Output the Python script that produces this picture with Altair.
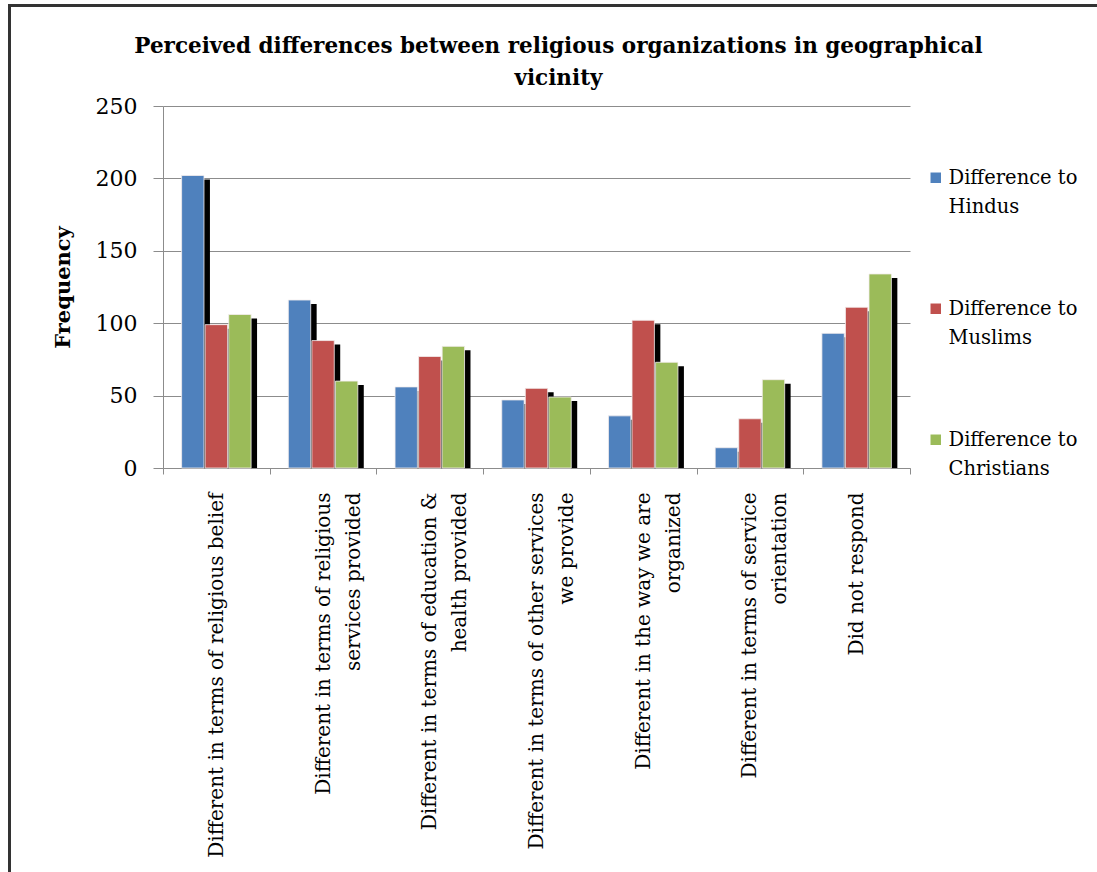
import altair as alt
import pandas as pd

categories = [
    "Different in terms of religious belief",
    "Different in terms of religious\nservices provided",
    "Different in terms of education &\nhealth provided",
    "Different in terms of other services\nwe provide",
    "Different in the way we are\norganized",
    "Different in terms of service\norientation",
    "Did not respond",
]
series = ["Difference to Hindus", "Difference to Muslims", "Difference to Christians"]
hindus = [202, 116, 56, 47, 36, 14, 93]
muslims = [99, 88, 77, 55, 102, 34, 111]
christians = [106, 60, 84, 49, 73, 61, 134]
colors = ["#4F81BD", "#C0504D", "#9BBB59"]
y_ticks = [0, 50, 100, 150, 200, 250]

rows = []
for i, c in enumerate(categories):
    for s, vals in zip(series, [hindus, muslims, christians]):
        rows.append({"category": c, "series": s, "value": vals[i]})
df = pd.DataFrame(rows)

serif = "DejaVu Serif"
gray = "#8c8c8c"

x_enc = alt.X(
    "category:N", sort=categories,
    scale=alt.Scale(paddingInner=0, paddingOuter=0),
    axis=alt.Axis(
        title=None, labelAngle=-90, labelAlign="right", labelBaseline="middle",
        labelExpr="split(datum.label, '\\n')", labelLineHeight=30,
        labelFont=serif, labelFontSize=20, labelColor="black", labelLimit=600,
        tickBand="extent", tickSize=6, tickColor=gray, domainColor=gray,
        labelPadding=18, grid=False,
    ),
)
y_enc = alt.Y(
    "value:Q", scale=alt.Scale(domain=[0, 250]),
    axis=alt.Axis(
        values=y_ticks, title="Frequency", titleFont=serif, titleFontSize=21,
        titleFontWeight="bold", titleColor="black", titlePadding=22,
        labelFont=serif, labelFontSize=22, labelColor="black", labelPadding=16,
        tickSize=10, tickColor=gray, domainColor=gray, gridColor=gray, grid=True,
    ),
)

# shadow bars: same bands, shifted right by a few pixels through the band alignment
shadow = alt.Chart(df).mark_bar(color="black", yOffset=4, clip=True).encode(
    x=x_enc,
    xOffset=alt.XOffset("series:N", sort=series,
                        scale=alt.Scale(paddingInner=0.05, paddingOuter=0.79, align=0.66)),
    y=y_enc,
)

bars = alt.Chart(df).mark_bar(stroke="#f4eeee", strokeWidth=0.8).encode(
    x=x_enc,
    xOffset=alt.XOffset("series:N", sort=series,
                        scale=alt.Scale(paddingInner=0.05, paddingOuter=0.79)),
    y=y_enc,
    color=alt.Color(
        "series:N", sort=series,
        scale=alt.Scale(domain=series, range=colors),
        legend=alt.Legend(
            title=None, orient="none", legendX=763, legendY=62,
            labelExpr="['Difference to', replace(datum.label, 'Difference to ', '')]",
            labelFont=serif, labelFontSize=19.5, labelColor="black",
            labelBaseline="middle", labelOffset=3, labelLimit=300,
            symbolType="square", symbolSize=110, symbolStrokeWidth=0,
            rowPadding=81,
        ),
    ),
)

frame_df = pd.DataFrame({"k": [0]})
left_border = alt.Chart(frame_df).mark_rule(color="#333333", strokeWidth=3).encode(
    x=alt.value(-153.5), x2=alt.value(-153.5), y=alt.value(-101), y2=alt.value(780)
)
top_border = alt.Chart(frame_df).mark_rule(color="#333333", strokeWidth=3).encode(
    x=alt.value(-155), x2=alt.value(960), y=alt.value(-100.5), y2=alt.value(-100.5)
)

chart = alt.layer(shadow, bars, left_border, top_border).resolve_scale(
    xOffset="independent"
).properties(
    width=747, height=362,
    title=alt.TitleParams(
        ["Perceived differences between religious organizations in geographical", "vicinity"],
        font=serif, fontSize=21.5, fontWeight="bold", color="black",
        anchor="middle", frame="group", dx=22, offset=-86, lineHeight=32,
    ),
    autosize=alt.AutoSizeParams(type="none"),
    padding={"left": 163, "top": 106, "right": 187, "bottom": 404},
).configure(
    background="white",
    view={"stroke": "transparent"},
    style={"guide-label": {"lineHeight": 29}},
)

chart.save("out.html", embed_options={"renderer": "svg", "actions": False})
